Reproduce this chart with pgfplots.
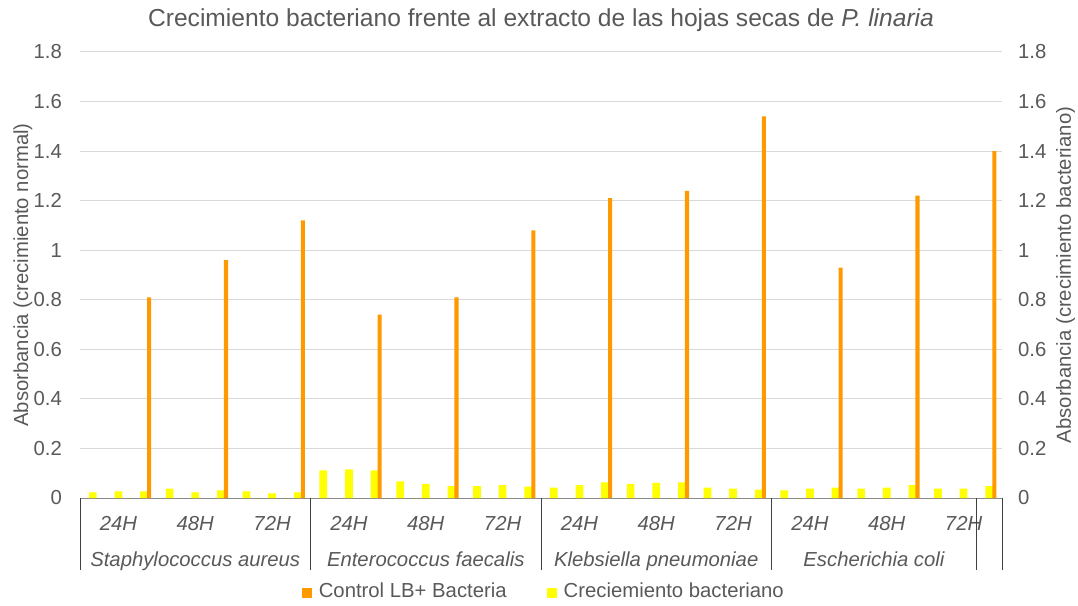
\documentclass[border=0pt]{standalone}
\usepackage{pgfplots}
\pgfplotsset{compat=1.18}
\usepackage{fontspec}
\setmainfont{Liberation Sans}
\definecolor{textgray}{HTML}{595959}
\definecolor{gridgray}{HTML}{D9D9D9}
\definecolor{axisgray}{HTML}{898989}
\definecolor{sepgray}{HTML}{404040}
\definecolor{orangeC}{HTML}{FF9900}
\definecolor{yellowC}{HTML}{FFFF00}
\newcommand{\lblfont}{\fontsize{20.3}{24}\selectfont}
\begin{document}
\begin{tikzpicture}
\useasboundingbox (-80pt,-107pt) rectangle (998pt,498pt);
\pgfplotsset{common/.style={
  width=922pt, height=446pt, scale only axis,
  at={(0pt,0pt)}, anchor=south west,
  xmin=-0.5, xmax=35.5, ymin=0, ymax=1.8,
  ytick={0,0.2,0.4,0.6,0.8,1,1.2,1.4,1.6,1.8},
  yticklabels={0,0.2,0.4,0.6,0.8,1,1.2,1.4,1.6,1.8},
  major tick length=0pt, tick style={draw=none},
  tick label style={font=\lblfont, text=textgray},
  label style={font=\lblfont, text=textgray},
  y axis line style={draw=none},
  clip=false,
}}
\begin{axis}[common,
  axis x line*=bottom, axis y line*=left,
  x axis line style={draw=axisgray, line width=1pt, -},
  ymajorgrids, grid style={gridgray, line width=1pt},
  xtick={1,4,7,10,13,16,19,22,25,28,31,34},
  xticklabels={24H,48H,72H,24H,48H,72H,24H,48H,72H,24H,48H,72H},
  xticklabel style={font=\lblfont\itshape, anchor=base, inner sep=0pt, yshift=-32pt},
  yticklabel style={anchor=east, inner sep=0pt, xshift=-18pt},
  ylabel={Absorbancia (crecimiento normal)},
  ylabel style={at={(axis description cs:-0.062,0.5)}, anchor=center},
  title={Crecimiento bacteriano frente al extracto de las hojas secas de \textit{P. linaria}},
  title style={font=\fontsize{24.6}{28}\selectfont, text=textgray, at={(axis description cs:0.5,1)}, anchor=base, yshift=19pt},
]
\addplot[ybar, bar width=0.3, bar shift=0, fill=yellowC, draw=none] coordinates {
 (0,0.023) (1,0.027) (2,0.027) (3,0.038) (4,0.023) (5,0.031) (6,0.027) (7,0.019) (8,0.023)
 (9,0.112) (10,0.116) (11,0.112) (12,0.067) (13,0.057) (14,0.048) (15,0.048) (16,0.052) (17,0.046)
 (18,0.042) (19,0.052) (20,0.063) (21,0.057) (22,0.061) (23,0.063) (24,0.042) (25,0.038) (26,0.034)
 (27,0.031) (28,0.038) (29,0.042) (30,0.038) (31,0.042) (32,0.052) (33,0.038) (34,0.038) (35,0.048)
};
\draw[sepgray, line width=0.75pt] (axis cs:-0.5,0) -- ++(0pt,-72pt);
\draw[sepgray, line width=0.75pt] (axis cs:8.5,0) -- ++(0pt,-72pt);
\draw[sepgray, line width=0.75pt] (axis cs:17.5,0) -- ++(0pt,-72pt);
\draw[sepgray, line width=0.75pt] (axis cs:26.5,0) -- ++(0pt,-72pt);
\draw[sepgray, line width=0.75pt] (axis cs:34.5,0) -- ++(0pt,-72pt);
\draw[sepgray, line width=0.75pt] (axis cs:35.5,0) -- ++(0pt,-72pt);
\node[anchor=base, font=\lblfont\itshape, text=textgray, yshift=-68pt] at (axis cs:4,0) {Staphylococcus aureus};
\node[anchor=base, font=\lblfont\itshape, text=textgray, yshift=-68pt] at (axis cs:13,0) {Enterococcus faecalis};
\node[anchor=base, font=\lblfont\itshape, text=textgray, yshift=-68pt] at (axis cs:22,0) {Klebsiella pneumoniae};
\node[anchor=base, font=\lblfont\itshape, text=textgray, yshift=-68pt] at (axis cs:30.5,0) {Escherichia coli};
\end{axis}
\begin{axis}[common,
  axis y line*=right, hide x axis,
  yticklabel style={anchor=west, inner sep=0pt, xshift=16pt},
  ylabel={Absorbancia (crecimiento bacteriano)},
  ylabel style={at={(axis description cs:1.069,0.5)}, anchor=center},
  legend columns=2,
  legend style={at={(axis description cs:0.503,-0.2085)}, anchor=center, draw=none, fill=none,
    font=\lblfont, text=textgray, /tikz/every even column/.append style={column sep=38pt}},
  legend image code/.code={\fill[#1] (0pt,-7pt) rectangle (10pt,3pt); \path (15pt,0pt);},
]
\addplot[ybar, bar width=0.16, bar shift=0.2, fill=orangeC, draw=none, forget plot] coordinates {
 (2,0.81) (5,0.96) (8,1.12) (11,0.74) (14,0.81) (17,1.08) (20,1.21) (23,1.24) (26,1.54) (29,0.93) (32,1.22) (35,1.40)
};
\addlegendimage{fill=orangeC, draw=none}
\addlegendentry{Control LB+ Bacteria}
\addlegendimage{fill=yellowC, draw=none}
\addlegendentry{Creciemiento bacteriano}
\end{axis}
\end{tikzpicture}
\end{document}
